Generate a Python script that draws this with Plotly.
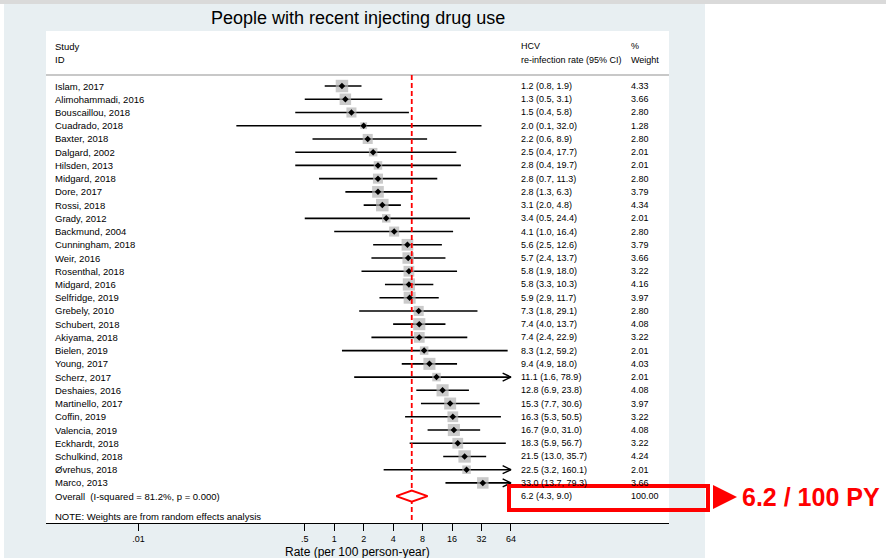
import plotly.graph_objects as go

# ---------------- data ----------------
studies = ["Islam, 2017", "Alimohammadi, 2016", "Bouscaillou, 2018", "Cuadrado, 2018",
           "Baxter, 2018", "Dalgard, 2002", "Hilsden, 2013", "Midgard, 2018", "Dore, 2017",
           "Rossi, 2018", "Grady, 2012", "Backmund, 2004", "Cunningham, 2018", "Weir, 2016",
           "Rosenthal, 2018", "Midgard, 2016", "Selfridge, 2019", "Grebely, 2010",
           "Schubert, 2018", "Akiyama, 2018", "Bielen, 2019", "Young, 2017", "Scherz, 2017",
           "Deshaies, 2016", "Martinello, 2017", "Coffin, 2019", "Valencia, 2019",
           "Eckhardt, 2018", "Schulkind, 2018", "Øvrehus, 2018", "Marco, 2013"]
rate = [1.2, 1.3, 1.5, 2.0, 2.2, 2.5, 2.8, 2.8, 2.8, 3.1, 3.4, 4.1, 5.6, 5.7, 5.8, 5.8,
        5.9, 7.3, 7.4, 7.4, 8.3, 9.4, 11.1, 12.8, 15.3, 16.3, 16.7, 18.3, 21.5, 22.5, 33.0]
ci_low = [0.8, 0.5, 0.4, 0.1, 0.6, 0.4, 0.4, 0.7, 1.3, 2.0, 0.5, 1.0, 2.5, 2.4, 1.9, 3.3,
          2.9, 1.8, 4.0, 2.4, 1.2, 4.9, 1.6, 6.9, 7.7, 5.3, 9.0, 5.9, 13.0, 3.2, 13.7]
ci_high = [1.9, 3.1, 5.8, 32.0, 8.9, 17.7, 19.7, 11.3, 6.3, 4.8, 24.4, 16.4, 12.6, 13.7,
           18.0, 10.3, 11.7, 29.1, 13.7, 22.9, 59.2, 18.0, 78.9, 23.8, 30.6, 50.5, 31.0,
           56.7, 35.7, 160.1, 79.3]
weights = [4.33, 3.66, 2.80, 1.28, 2.80, 2.01, 2.01, 2.80, 3.79, 4.34, 2.01, 2.80, 3.79,
           3.66, 3.22, 4.16, 3.97, 2.80, 4.08, 3.22, 2.01, 4.03, 2.01, 4.08, 3.97, 3.22,
           4.08, 3.22, 4.24, 2.01, 3.66]
overall_rate, overall_low, overall_high = 6.2, 4.3, 9.0
overall_label = "Overall\u00a0 (I-squared = 81.2%, p = 0.000)"
overall_weight = "100.00"
tick_vals = [0.01, 0.5, 1, 2, 4, 8, 16, 32, 64]
tick_text = [".01", ".5", "1", "2", "4", "8", "16", "32", "64"]
axis_max = 64

# ---------------- layout helpers ----------------
W, H = 886, 558
def px(x):
    return x / W
def py(y):
    return 1 - y / H

FONT = "Liberation Sans, Arial, sans-serif"
n = len(studies)
rows = list(range(n))
overall_row = n

fig = go.Figure()

# CI lines (clipped at axis max)
xs, ys = [], []
for r, lo, hi in zip(rows, ci_low, ci_high):
    xs += [lo, min(hi, axis_max), None]
    ys += [r, r, None]
fig.add_trace(go.Scatter(x=xs, y=ys, mode="lines", line=dict(color="black", width=1.6),
                         hoverinfo="skip"))

# arrows for clipped CIs
ax_x, ax_y = [], []
back = axis_max / (10 ** 0.085)
for r, hi in zip(rows, ci_high):
    if hi > axis_max:
        ax_x += [back, axis_max, back, None]
        ax_y += [r - 0.3, r, r + 0.3, None]
fig.add_trace(go.Scatter(x=ax_x, y=ax_y, mode="lines", line=dict(color="black", width=1.4),
                         hoverinfo="skip"))

# weight squares
fig.add_trace(go.Scatter(x=rate, y=rows, mode="markers",
                         marker=dict(symbol="square", color="#b4b4b4",
                                     size=[6.0 * w ** 0.5 for w in weights],
                                     line=dict(width=0)),
                         hoverinfo="skip"))
# point estimates
fig.add_trace(go.Scatter(x=rate, y=rows, mode="markers",
                         marker=dict(symbol="diamond", color="black", size=5),
                         hoverinfo="skip"))

# overall dashed line
fig.add_trace(go.Scatter(x=[overall_rate, overall_rate], y=[-0.83, 33.03], mode="lines",
                         line=dict(color="red", width=1.8, dash="5px,3px"), hoverinfo="skip"))

# overall diamond
fig.add_trace(go.Scatter(x=[overall_low, overall_rate, overall_high, overall_rate, overall_low],
                         y=[overall_row, overall_row - 0.42, overall_row, overall_row + 0.42,
                            overall_row],
                         mode="lines", line=dict(color="red", width=2), fill="toself",
                         fillcolor="white", hoverinfo="skip"))

ann = []
def text(x, y, s, size=9.5, yref="y", color="black", xanchor="left", bold=False):
    if bold:
        s = "<b>" + s + "</b>"
    ann.append(dict(x=px(x), xref="paper", y=y, yref=yref, text=s, showarrow=False,
                    xanchor=xanchor, yanchor="middle",
                    font=dict(family=FONT, size=size, color=color)))

# headers
text(53, -3.0, "Study")
text(53, -2.0, "ID")
text(519, -3.0, "HCV", size=9)
text(519, -2.0, "re-infection rate (95% CI)", size=9)
text(629, -3.0, "%", size=9)
text(629, -2.0, "Weight", size=9)

for r, s, e, lo, hi, w in zip(rows, studies, rate, ci_low, ci_high, weights):
    text(53, r, s)
    text(519, r, f"{e:.1f} ({lo:.1f}, {hi:.1f})", size=9)
    text(629, r, f"{w:.2f}", size=9)

text(53, overall_row, overall_label)
text(519, overall_row, f"{overall_rate:.1f} ({overall_low:.1f}, {overall_high:.1f})", size=9)
text(629, overall_row, overall_weight, size=9)
text(53, 32.55, "NOTE: Weights are from random effects analysis")

# title and axis title
ann.append(dict(x=px(357.5), xref="paper", y=py(18), yref="paper",
                text="People with recent injecting drug use", showarrow=False,
                xanchor="center", yanchor="middle",
                font=dict(family=FONT, size=18, color="black")))
ann.append(dict(x=px(357.5), xref="paper", y=py(552), yref="paper",
                text="Rate (per 100 person-year)", showarrow=False,
                xanchor="center", yanchor="middle",
                font=dict(family=FONT, size=12, color="black")))
# red callout text
ann.append(dict(x=px(740), xref="paper", y=py(497), yref="paper",
                text="<b>6.2 / 100 PY</b>", showarrow=False,
                xanchor="left", yanchor="middle",
                font=dict(family=FONT, size=25, color="#ff0000")))

shapes = [
    dict(type="rect", xref="paper", yref="paper", x0=0, x1=1, y0=py(4), y1=1,
         fillcolor="#dadada", line=dict(width=0), layer="below"),
    dict(type="rect", xref="paper", yref="paper", x0=px(4), x1=px(705), y0=0, y1=py(4),
         fillcolor="#e8eff2", line=dict(width=0), layer="below"),
    dict(type="rect", xref="paper", yref="paper", x0=px(46), x1=px(669), y0=py(523), y1=py(31),
         fillcolor="white", line=dict(width=0), layer="below"),
    dict(type="line", xref="paper", yref="paper", x0=px(46), x1=px(669), y0=py(75), y1=py(75),
         line=dict(color="#c8c8c8", width=2), layer="below"),
    dict(type="rect", xref="paper", yref="paper", x0=px(509), x1=px(708), y0=py(510), y1=py(486),
         line=dict(color="#ff0000", width=4), fillcolor="rgba(0,0,0,0)", layer="above"),
    dict(type="path", xref="paper", yref="paper",
         path=f"M {px(713)} {py(485)} L {px(737)} {py(497)} L {px(713)} {py(509)} Z",
         fillcolor="#ff0000", line=dict(width=0), layer="above"),
]

fig.update_layout(
    width=W, height=H, autosize=False,
    margin=dict(l=0, r=0, t=0, b=0, pad=0),
    paper_bgcolor="white", plot_bgcolor="rgba(0,0,0,0)",
    showlegend=False,
    annotations=ann, shapes=shapes,
    xaxis=dict(domain=[px(46), px(669)], type="log", range=[-2.945, 3.421],
               tickvals=tick_vals, ticktext=tick_text, ticks="outside", ticklen=7,
               tickcolor="black", tickwidth=1, showline=True, linecolor="black", linewidth=1,
               showgrid=False, zeroline=False,
               tickfont=dict(family=FONT, size=9, color="black")),
    yaxis=dict(domain=[py(523), py(31)], range=[33.03, -4.16], visible=False,
               showgrid=False, zeroline=False),
)

fig.write_html("out.html", config={"displayModeBar": False},
               post_script="document.body.style.margin='0';document.body.style.overflow='hidden';")
